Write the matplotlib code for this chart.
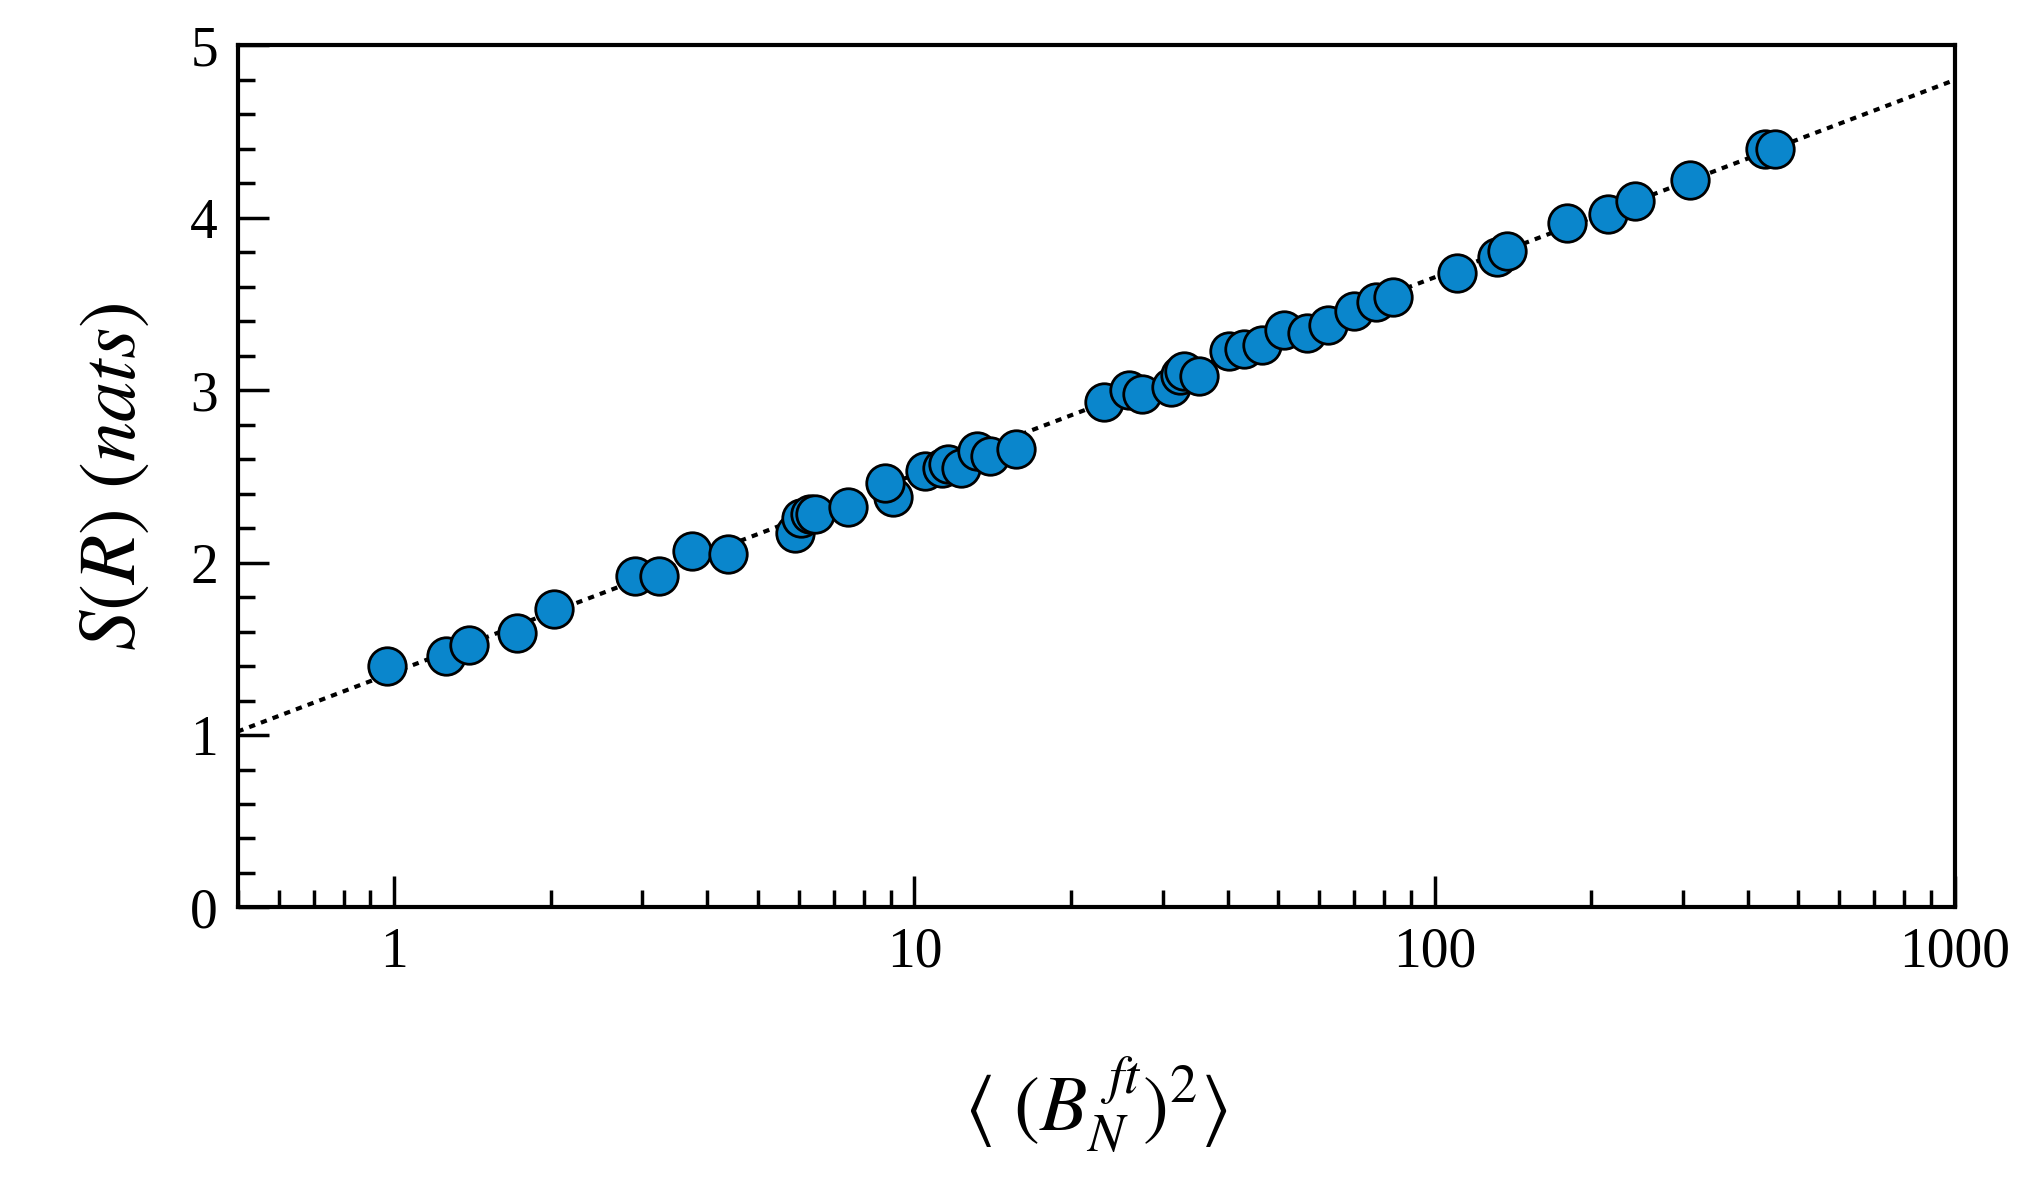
import matplotlib
matplotlib.use("Agg")
import matplotlib.pyplot as plt
import numpy as np
from matplotlib.ticker import MultipleLocator, LogLocator, NullFormatter, FixedLocator, FixedFormatter

plt.rcParams['font.family'] = ['Liberation Serif', 'DejaVu Serif']
plt.rcParams['mathtext.fontset'] = 'stix'

bx = [0.97,1.26,1.39,1.72,2.03,2.90,3.23,3.73,4.39,5.9,6.05,6.3,6.45,7.45,9.1,8.8,10.5,11.3,11.6,12.3,13.2,14.0,15.7,
      23.1,25.9,27.4,31.1,32.4,33.0,35.2,40.2,43.1,46.5,51.3,56.9,62.5,70.0,77.2,83.0,110.3,132,138,180,215,243,309,431,452]
sr = [1.40,1.46,1.52,1.59,1.73,1.92,1.92,2.07,2.05,2.17,2.26,2.28,2.28,2.32,2.38,2.46,2.53,2.55,2.57,2.55,2.65,2.62,2.66,
      2.93,3.00,2.98,3.02,3.09,3.11,3.08,3.23,3.24,3.26,3.35,3.33,3.38,3.46,3.51,3.54,3.68,3.77,3.81,3.97,4.02,4.10,4.22,4.40,4.40]
fit_x = [0.5, 1000]
fit_a, fit_b = 1.02, 1.145

fig = plt.figure(figsize=(20.3, 11.94), dpi=100)
ax = fig.add_axes([0.117, 0.24, 0.851-0.005, 0.722])
fx = np.array(fit_x)
ax.plot(fx, fit_a + fit_b*np.log10(fx/0.5), ls=(0, (1.5, 1.5)), color='black', lw=3, zorder=1)
ax.plot(bx, sr, 'o', ms=27, mfc='#0a86cc', mec='black', mew=2, zorder=2)
ax.set_xscale('log')
ax.set_xlim(0.5, 1000)
ax.set_ylim(0, 5)
ax.xaxis.set_major_locator(FixedLocator([1, 10, 100, 1000]))
ax.xaxis.set_major_formatter(FixedFormatter(['1', '10', '100', '1000']))
ax.xaxis.set_minor_locator(LogLocator(base=10, subs=np.arange(2, 10)))
ax.xaxis.set_minor_formatter(NullFormatter())
ax.yaxis.set_major_locator(MultipleLocator(1))
ax.yaxis.set_minor_locator(MultipleLocator(0.2))
ax.tick_params(which='both', direction='in', top=False, right=False, labelsize=40, width=2.5, pad=14)
ax.tick_params(which='major', length=22)
ax.tick_params(which='minor', length=12)
for s in ax.spines.values():
    s.set_linewidth(3)
ax.set_ylabel(r'$S(R)\ (nats)$', fontsize=58, labelpad=28)
ax.set_xlabel(r'$\langle\ (B_N^{\ ft})^2\rangle$', fontsize=56, labelpad=55)
fig.savefig('out.png', dpi=100)
